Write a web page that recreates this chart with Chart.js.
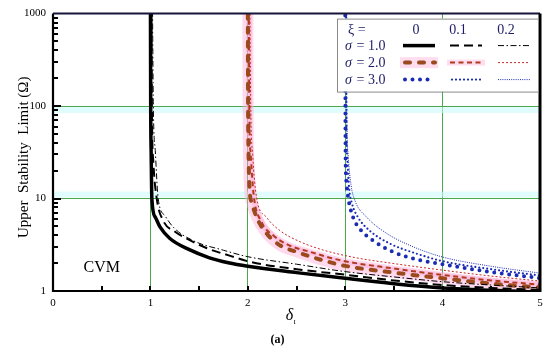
<!DOCTYPE html>
<html><head><meta charset="utf-8">
<script src="https://cdn.jsdelivr.net/npm/chart.js@4/dist/chart.umd.min.js"></script>
<style>html,body{margin:0;padding:0;background:#fff}#wrap{width:550px;height:350px;position:relative}</style>
</head><body><div id="wrap"><canvas id="c" width="550" height="350"></canvas></div>
<script>
// ---- data ----
const xiLabels = ['0', '0.1', '0.2'];
const sigmaLabels = ['σ = 1.0', 'σ = 2.0', 'σ = 3.0'];
const yTickValues = [1, 10, 100, 1000];
const xTickValues = [0, 1, 2, 3, 4, 5];
const gridX = [1, 2, 3, 4];
const gridY = [10, 100];

const sig1_xi0 = [[1.0,2000],[1.003,100],[1.008,30],[1.015,10],[1.05,6.3],[1.1,4.9],[1.2,3.7],[1.4,2.8],[1.6,2.3],[1.8,2.02],[2.0,1.85],[2.5,1.58],[3.0,1.37],[3.5,1.2],[4.0,1.08],[4.5,1.02],[5.0,0.97]];
const sig1_xi1 = [[1.01,2000],[1.015,100],[1.03,25],[1.065,10],[1.13,5.8],[1.25,4.4],[1.37,3.7],[1.58,2.9],[1.82,2.4],[2.02,2.07],[2.5,1.72],[3.0,1.5],[3.5,1.3],[4.0,1.16],[4.5,1.08],[5.0,1.03]];
const sig1_xi2 = [[1.02,2000],[1.03,100],[1.05,33],[1.08,10],[1.15,6.5],[1.235,4.9],[1.44,3.5],[1.75,2.76],[2.0,2.35],[2.5,1.95],[3.0,1.62],[3.5,1.42],[4.0,1.26],[4.5,1.16],[5.0,1.08]];
const sig2_xi0 = [[2.0,2000],[2.003,100],[2.008,30],[2.02,12],[2.04,9.1],[2.09,6.3],[2.18,4.35],[2.33,3.12],[2.5,2.65],[2.71,2.24],[3.0,1.87],[3.5,1.58],[4.0,1.37],[4.5,1.2],[5.0,1.09]];
const sig2_xi1 = [[2.01,2000],[2.015,100],[2.03,30],[2.06,11],[2.14,5.6],[2.26,4.0],[2.43,3.1],[2.64,2.65],[2.95,2.15],[3.5,1.75],[4.0,1.49],[4.5,1.3],[5.0,1.17]];
const sig2_xi2 = [[2.02,2000],[2.03,100],[2.05,30],[2.09,10.3],[2.19,6.3],[2.33,4.5],[2.54,3.4],[2.78,2.76],[3.1,2.3],[3.5,1.98],[4.0,1.68],[4.5,1.45],[5.0,1.28]];
const sig3_xi0 = [[3.0,2000],[3.003,40],[3.008,18],[3.015,14],[3.03,10.3],[3.08,6.3],[3.15,4.7],[3.29,3.5],[3.49,2.65],[3.77,2.15],[4.0,1.95],[4.5,1.6],[5.0,1.38]];
const sig3_xi1 = [[3.01,2000],[3.012,100],[3.02,30],[3.04,13],[3.07,8.8],[3.13,6.3],[3.25,4.5],[3.46,3.25],[3.73,2.54],[4.0,2.1],[4.5,1.72],[5.0,1.47]];
const sig3_xi2 = [[3.01,2000],[3.015,100],[3.03,30],[3.06,14],[3.1,9.5],[3.22,6.3],[3.43,4.17],[3.7,3.0],[4.0,2.33],[4.5,1.85],[5.0,1.56]];

const pts = a => a.map(p => ({x: p[0], y: p[1]}));
const SERIF = '"Liberation Serif", "DejaVu Serif", serif';
const BLUE = '#1b2cb4', BROWN = '#9a4a1c', RED2 = '#b03a1e', RED3 = '#c82828';

const styles = [
  {data: sig1_xi0, color: '#000', width: 3.5, dash: [], cap: 'butt'},
  {data: sig1_xi1, color: '#000', width: 2, dash: [9, 5], cap: 'butt'},
  {data: sig1_xi2, color: '#000', width: 1, dash: [6, 2.5, 1.5, 2.5], cap: 'butt'},
  {data: sig2_xi0, color: BROWN, width: 4, dash: [5, 9], cap: 'round', halo: 11},
  {data: sig2_xi1, color: RED2, width: 2, dash: [5, 3.5], cap: 'butt', halo: 6},
  {data: sig2_xi2, color: RED3, width: 1, dash: [2, 2], cap: 'butt'},
  {data: sig3_xi0, color: BLUE, width: 4, dash: [0, 7.5], cap: 'round'},
  {data: sig3_xi1, color: BLUE, width: 2.2, dash: [0, 4], cap: 'round'},
  {data: sig3_xi2, color: BLUE, width: 1, dash: [1, 1.2], cap: 'butt'}
];

const datasets = styles.map((s, i) => ({
  label: sigmaLabels[Math.floor(i / 3)] + ' ξ=' + xiLabels[i % 3],
  data: pts(s.data),
  borderColor: s.color, borderWidth: s.width, borderDash: s.dash, borderCapStyle: s.cap,
  pointRadius: 0, fill: false, cubicInterpolationMode: 'monotone', clip: 0, order: 1
}));
styles.forEach(s => {
  if (s.halo) datasets.push({
    label: 'halo', data: pts(s.data), borderColor: 'rgba(255,170,215,0.45)', borderWidth: s.halo,
    pointRadius: 0, fill: false, cubicInterpolationMode: 'monotone', clip: 0, order: 5
  });
});

const GREEN = '#4aa84a';
const decor = {
  id: 'decor',
  beforeDatasetsDraw(chart) {
    const ctx = chart.ctx, a = chart.chartArea, xs = chart.scales.x, ys = chart.scales.y;
    ctx.save();
    ctx.fillStyle = 'rgba(205,250,250,0.6)';
    const y100 = ys.getPixelForValue(100), y10 = ys.getPixelForValue(10);
    ctx.fillRect(a.left, y100 + 1, a.right - a.left, 6);
    ctx.fillRect(a.left, y10 - 7, a.right - a.left, 6);
    ctx.restore();
  },
  afterDatasetsDraw(chart) {
    const ctx = chart.ctx, a = chart.chartArea, xs = chart.scales.x, ys = chart.scales.y;
    ctx.save();
    // inward ticks
    ctx.strokeStyle = '#000'; ctx.lineWidth = 2;
    for (let d = 0; d < 3; d++) for (let m = 2; m <= 9; m++) {
      const py = Math.round(ys.getPixelForValue(m * Math.pow(10, d)));
      ctx.beginPath(); ctx.moveTo(a.left, py); ctx.lineTo(a.left + 5, py); ctx.stroke();
    }
    [10, 100].forEach(v => { const py = Math.round(ys.getPixelForValue(v)); ctx.beginPath(); ctx.moveTo(a.left, py); ctx.lineTo(a.left + 8, py); ctx.stroke(); });
    for (let v = 0.5; v < 5; v += 0.5) {
      const px = Math.round(xs.getPixelForValue(v));
      ctx.beginPath(); ctx.moveTo(px, a.bottom); ctx.lineTo(px, a.bottom - 5); ctx.stroke();
    }
    // frame
    ctx.strokeStyle = '#000'; ctx.lineWidth = 2.2;
    ctx.beginPath(); ctx.moveTo(a.left, a.top); ctx.lineTo(a.left, a.bottom); ctx.lineTo(a.right, a.bottom); ctx.stroke();
    ctx.strokeStyle = '#15153a'; ctx.lineWidth = 2;
    ctx.beginPath(); ctx.moveTo(a.left, a.top); ctx.lineTo(a.right, a.top); ctx.stroke();
    ctx.strokeStyle = '#000'; ctx.lineWidth = 3;
    ctx.beginPath(); ctx.moveTo(a.right, a.top); ctx.lineTo(a.right, a.bottom + 1); ctx.stroke();

    // legend box
    const bx = a.right - 203, by = a.top + 5, bw = 201, bh = 73;
    ctx.fillStyle = '#fff'; ctx.fillRect(bx, by, bw, bh);
    ctx.strokeStyle = '#8a8a8a'; ctx.lineWidth = 1; ctx.strokeRect(bx + 0.5, by + 0.5, bw, bh);
    ctx.fillStyle = '#1c1c6a'; ctx.font = '14px ' + SERIF; ctx.textBaseline = 'middle';
    ctx.textAlign = 'left'; ctx.fillText('ξ =', bx + 11, by + 12);
    const colC = [bx + 82, bx + 129, bx + 177];
    const headC = [bx + 79, bx + 121, bx + 169];
    ctx.textAlign = 'center';
    xiLabels.forEach((t, i) => ctx.fillText(t, headC[i], by + 12));
    const rowY = [by + 27, by + 44, by + 61];
    ctx.textAlign = 'left';
    sigmaLabels.forEach((t, r) => {
      ctx.fillStyle = '#1c1c6a';
      ctx.font = 'italic 14px ' + SERIF; ctx.fillText('σ', bx + 8, rowY[r] + 1);
      ctx.font = '14px ' + SERIF; ctx.fillText(t.slice(1), bx + 16, rowY[r] + 1);
      for (let c = 0; c < 3; c++) {
        const s = styles[r * 3 + c];
        const x0 = colC[c] - 16, x1 = colC[c] + 16;
        if (s.halo) {
          ctx.fillStyle = 'rgba(255,180,220,0.45)';
          ctx.fillRect(x0 - 3, rowY[r] - s.halo / 2, x1 - x0 + 6, s.halo);
        }
        ctx.strokeStyle = s.color; ctx.lineWidth = s.width; ctx.setLineDash(s.dash); ctx.lineCap = s.cap;
        ctx.beginPath(); ctx.moveTo(x0 + (s.cap === 'round' ? 2 : 0), rowY[r]); ctx.lineTo(x1, rowY[r]); ctx.stroke();
        ctx.setLineDash([]); ctx.lineCap = 'butt';
      }
    });

    // CVM label
    ctx.fillStyle = '#000'; ctx.font = '16px ' + SERIF; ctx.textAlign = 'center';
    ctx.fillText('CVM', xs.getPixelForValue(0.5), ys.getPixelForValue(1.8));

    // axis titles
    ctx.save();
    ctx.translate(24, (a.top + a.bottom) / 2 + 5);
    ctx.rotate(-Math.PI / 2);
    ctx.font = '15px ' + SERIF; ctx.textAlign = 'center';
    ctx.fillText('Upper  Stability  Limit (Ω)', 0, 0);
    ctx.restore();
    const cx = (a.left + a.right) / 2;
    ctx.font = 'italic 16px ' + SERIF; ctx.textAlign = 'center';
    ctx.fillText('δ', cx - 7, 316);
    ctx.font = 'italic 8px ' + SERIF; ctx.textAlign = 'left';
    ctx.fillText('ι', cx - 3, 322);
    ctx.font = 'bold 12px ' + SERIF; ctx.textAlign = 'center';
    ctx.fillText('(a)', cx - 19, 340);
    ctx.restore();
  }
};

new Chart(document.getElementById('c'), {
  type: 'line',
  data: {datasets},
  options: {
    responsive: false, animation: false, devicePixelRatio: 1,
    layout: {padding: {top: 12, right: 10, left: 0, bottom: 0}},
    plugins: {legend: {display: false}, tooltip: {enabled: false}},
    scales: {
      x: {
        type: 'linear', min: 0, max: 5,
        afterBuildTicks: s => { s.ticks = xTickValues.map(v => ({value: v})); },
        afterFit: s => { s.height = 59; },
        border: {display: false},
        grid: {drawTicks: false, lineWidth: 1, color: c => gridX.includes(c.tick.value) ? GREEN : 'transparent'},
        ticks: {padding: 6, color: '#000', font: {family: SERIF, size: 11}, maxRotation: 0}
      },
      y: {
        type: 'logarithmic', min: 1, max: 1000,
        afterBuildTicks: s => { s.ticks = yTickValues.map(v => ({value: v})); },
        afterFit: s => { s.width = 53; },
        border: {display: false},
        grid: {drawTicks: false, lineWidth: 1, color: c => gridY.includes(c.tick.value) ? GREEN : 'transparent'},
        ticks: {padding: 7, color: '#000', font: {family: SERIF, size: 11}, callback: v => String(v)}
      }
    }
  },
  plugins: [decor]
});
</script>
</body></html>
